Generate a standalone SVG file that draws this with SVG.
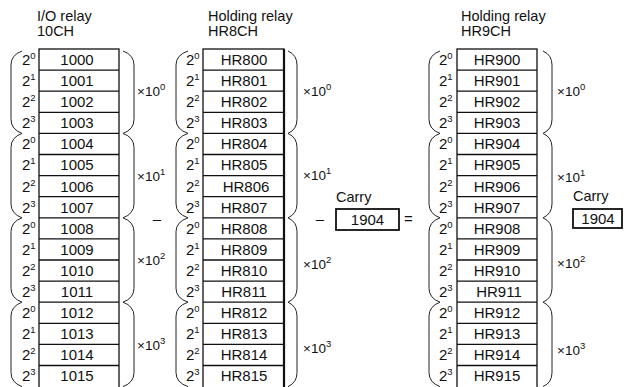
<svg xmlns="http://www.w3.org/2000/svg" width="626" height="387" viewBox="0 0 626 387">
<defs>
<style>
text{font-family:"Liberation Sans",Arial,sans-serif;fill:#111}
.h{font-size:14.5px}
.r{font-size:15px;text-anchor:middle}
.b{font-size:15px}
.s{font-size:9.5px}
.x{font-size:13.5px}
.tbl{fill:none;stroke:#111;stroke-width:1.3}
.br{fill:none;stroke:#222;stroke-width:1}
.cb{fill:#fff;stroke:#111;stroke-width:1.8}
</style>
</defs>
<rect width="626" height="387" fill="#fff"/>

<g id="header-io">
<text class="h" x="37" y="21">I/O relay</text>
<text class="h" x="37" y="36">10CH</text>
</g>
<g id="header-hr8">
<text class="h" x="208" y="21">Holding relay</text>
<text class="h" x="208" y="36">HR8CH</text>
</g>
<g id="header-hr9">
<text class="h" x="461" y="21">Holding relay</text>
<text class="h" x="461" y="36">HR9CH</text>
</g>

<!-- Column A: I/O relay 10CH -->
<g id="table-10CH">
<rect class="tbl" x="39" y="49" width="80" height="345"/>
<path class="tbl" d="M39,70.1H119M39,91.2H119M39,112.3H119M39,133.4H119M39,154.5H119M39,175.6H119M39,196.7H119M39,217.8H119M39,238.9H119M39,260H119M39,281.1H119M39,302.2H119M39,323.3H119M39,344.4H119M39,365.5H119"/>
<text class="r" x="77" y="65">1000</text>
<text class="r" x="77" y="86">1001</text>
<text class="r" x="77" y="107">1002</text>
<text class="r" x="77" y="128">1003</text>
<text class="r" x="77" y="149">1004</text>
<text class="r" x="77" y="170">1005</text>
<text class="r" x="77" y="192">1006</text>
<text class="r" x="77" y="213">1007</text>
<text class="r" x="77" y="234">1008</text>
<text class="r" x="77" y="255">1009</text>
<text class="r" x="77" y="276">1010</text>
<text class="r" x="77" y="297">1011</text>
<text class="r" x="77" y="318">1012</text>
<text class="r" x="77" y="339">1013</text>
<text class="r" x="77" y="360">1014</text>
<text class="r" x="77" y="381">1015</text>
</g>
<g id="bits-10CH">
<text class="b" x="22" y="65">2<tspan class="s" dy="-6">0</tspan></text>
<text class="b" x="22" y="86">2<tspan class="s" dy="-6">1</tspan></text>
<text class="b" x="22" y="107">2<tspan class="s" dy="-6">2</tspan></text>
<text class="b" x="22" y="128">2<tspan class="s" dy="-6">3</tspan></text>
<text class="b" x="22" y="149">2<tspan class="s" dy="-6">0</tspan></text>
<text class="b" x="22" y="170">2<tspan class="s" dy="-6">1</tspan></text>
<text class="b" x="22" y="192">2<tspan class="s" dy="-6">2</tspan></text>
<text class="b" x="22" y="213">2<tspan class="s" dy="-6">3</tspan></text>
<text class="b" x="22" y="234">2<tspan class="s" dy="-6">0</tspan></text>
<text class="b" x="22" y="255">2<tspan class="s" dy="-6">1</tspan></text>
<text class="b" x="22" y="276">2<tspan class="s" dy="-6">2</tspan></text>
<text class="b" x="22" y="297">2<tspan class="s" dy="-6">3</tspan></text>
<text class="b" x="22" y="318">2<tspan class="s" dy="-6">0</tspan></text>
<text class="b" x="22" y="339">2<tspan class="s" dy="-6">1</tspan></text>
<text class="b" x="22" y="360">2<tspan class="s" dy="-6">2</tspan></text>
<text class="b" x="22" y="381">2<tspan class="s" dy="-6">3</tspan></text>
</g>
<g id="scale-10CH">
<text class="x" x="137" y="96">×10<tspan class="s" dy="-6">0</tspan></text>
<text class="x" x="137" y="181">×10<tspan class="s" dy="-6">1</tspan></text>
<text class="x" x="137" y="265">×10<tspan class="s" dy="-6">2</tspan></text>
<text class="x" x="137" y="350">×10<tspan class="s" dy="-6">3</tspan></text>
</g>

<!-- Column B: HR8CH -->
<g id="table-HR8CH">
<rect class="tbl" x="203" y="49" width="81" height="345"/>
<line x1="284" y1="49" x2="284" y2="394" stroke="#111" stroke-width="2.2"/>
<path class="tbl" d="M203,70.1H284M203,91.2H284M203,112.3H284M203,133.4H284M203,154.5H284M203,175.6H284M203,196.7H284M203,217.8H284M203,238.9H284M203,260H284M203,281.1H284M203,302.2H284M203,323.3H284M203,344.4H284M203,365.5H284"/>
<text class="r" x="244" y="65">HR800</text>
<text class="r" x="244" y="86">HR801</text>
<text class="r" x="244" y="107">HR802</text>
<text class="r" x="244" y="128">HR803</text>
<text class="r" x="244" y="149">HR804</text>
<text class="r" x="244" y="170">HR805</text>
<text class="r" x="246" y="192">HR806</text>
<text class="r" x="244" y="213">HR807</text>
<text class="r" x="244" y="234">HR808</text>
<text class="r" x="244" y="255">HR809</text>
<text class="r" x="244" y="276">HR810</text>
<text class="r" x="244" y="297">HR811</text>
<text class="r" x="244" y="318">HR812</text>
<text class="r" x="244" y="339">HR813</text>
<text class="r" x="244" y="360">HR814</text>
<text class="r" x="244" y="381">HR815</text>
</g>
<g id="bits-HR8CH">
<text class="b" x="186" y="65">2<tspan class="s" dy="-6">0</tspan></text>
<text class="b" x="186" y="86">2<tspan class="s" dy="-6">1</tspan></text>
<text class="b" x="186" y="107">2<tspan class="s" dy="-6">2</tspan></text>
<text class="b" x="186" y="128">2<tspan class="s" dy="-6">3</tspan></text>
<text class="b" x="186" y="149">2<tspan class="s" dy="-6">0</tspan></text>
<text class="b" x="186" y="170">2<tspan class="s" dy="-6">1</tspan></text>
<text class="b" x="186" y="192">2<tspan class="s" dy="-6">2</tspan></text>
<text class="b" x="186" y="213">2<tspan class="s" dy="-6">3</tspan></text>
<text class="b" x="186" y="234">2<tspan class="s" dy="-6">0</tspan></text>
<text class="b" x="186" y="255">2<tspan class="s" dy="-6">1</tspan></text>
<text class="b" x="186" y="276">2<tspan class="s" dy="-6">2</tspan></text>
<text class="b" x="186" y="297">2<tspan class="s" dy="-6">3</tspan></text>
<text class="b" x="186" y="318">2<tspan class="s" dy="-6">0</tspan></text>
<text class="b" x="186" y="339">2<tspan class="s" dy="-6">1</tspan></text>
<text class="b" x="186" y="360">2<tspan class="s" dy="-6">2</tspan></text>
<text class="b" x="186" y="381">2<tspan class="s" dy="-6">3</tspan></text>
</g>
<g id="scale-HR8CH">
<text class="x" x="303" y="96">×10<tspan class="s" dy="-6">0</tspan></text>
<text class="x" x="303" y="180">×10<tspan class="s" dy="-6">1</tspan></text>
<text class="x" x="303" y="269">×10<tspan class="s" dy="-6">2</tspan></text>
<text class="x" x="303" y="353">×10<tspan class="s" dy="-6">3</tspan></text>
</g>

<!-- Column C: HR9CH -->
<g id="table-HR9CH">
<rect class="tbl" x="457" y="49" width="80" height="345"/>
<path class="tbl" d="M457,70.1H537M457,91.2H537M457,112.3H537M457,133.4H537M457,154.5H537M457,175.6H537M457,196.7H537M457,217.8H537M457,238.9H537M457,260H537M457,281.1H537M457,302.2H537M457,323.3H537M457,344.4H537M457,365.5H537"/>
<text class="r" x="497" y="65">HR900</text>
<text class="r" x="497" y="86">HR901</text>
<text class="r" x="497" y="107">HR902</text>
<text class="r" x="497" y="128">HR903</text>
<text class="r" x="497" y="149">HR904</text>
<text class="r" x="497" y="170">HR905</text>
<text class="r" x="497" y="192">HR906</text>
<text class="r" x="497" y="213">HR907</text>
<text class="r" x="497" y="234">HR908</text>
<text class="r" x="497" y="255">HR909</text>
<text class="r" x="497" y="276">HR910</text>
<text class="r" x="499" y="297">HR911</text>
<text class="r" x="497" y="318">HR912</text>
<text class="r" x="497" y="339">HR913</text>
<text class="r" x="497" y="360">HR914</text>
<text class="r" x="497" y="381">HR915</text>
</g>
<g id="bits-HR9CH">
<text class="b" x="439" y="65">2<tspan class="s" dy="-6">0</tspan></text>
<text class="b" x="439" y="86">2<tspan class="s" dy="-6">1</tspan></text>
<text class="b" x="439" y="107">2<tspan class="s" dy="-6">2</tspan></text>
<text class="b" x="439" y="128">2<tspan class="s" dy="-6">3</tspan></text>
<text class="b" x="439" y="149">2<tspan class="s" dy="-6">0</tspan></text>
<text class="b" x="439" y="170">2<tspan class="s" dy="-6">1</tspan></text>
<text class="b" x="439" y="192">2<tspan class="s" dy="-6">2</tspan></text>
<text class="b" x="439" y="213">2<tspan class="s" dy="-6">3</tspan></text>
<text class="b" x="439" y="234">2<tspan class="s" dy="-6">0</tspan></text>
<text class="b" x="439" y="255">2<tspan class="s" dy="-6">1</tspan></text>
<text class="b" x="439" y="276">2<tspan class="s" dy="-6">2</tspan></text>
<text class="b" x="439" y="297">2<tspan class="s" dy="-6">3</tspan></text>
<text class="b" x="439" y="318">2<tspan class="s" dy="-6">0</tspan></text>
<text class="b" x="439" y="339">2<tspan class="s" dy="-6">1</tspan></text>
<text class="b" x="439" y="360">2<tspan class="s" dy="-6">2</tspan></text>
<text class="b" x="439" y="381">2<tspan class="s" dy="-6">3</tspan></text>
</g>
<g id="scale-HR9CH">
<text class="x" x="557" y="96">×10<tspan class="s" dy="-6">0</tspan></text>
<text class="x" x="557" y="182">×10<tspan class="s" dy="-6">1</tspan></text>
<text class="x" x="557" y="268">×10<tspan class="s" dy="-6">2</tspan></text>
<text class="x" x="557" y="355">×10<tspan class="s" dy="-6">3</tspan></text>
</g>

<!-- Braces -->
<g id="braces">
<path class="br" d="M22,51 Q11,55 11,65 V119.4 Q11,129.4 22,133.4 Q11,137.4 11,147.4 V203.8 Q11,213.8 22,217.8 Q11,221.8 11,231.8 V288.2 Q11,298.2 22,302.2 Q11,306.2 11,316.2 V372.6 Q11,382.6 22,386.6"/>
<path class="br" d="M123,51 Q134,55 134,65 V119.4 Q134,129.4 123,133.4 Q134,137.4 134,147.4 V203.8 Q134,213.8 123,217.8 Q134,221.8 134,231.8 V288.2 Q134,298.2 123,302.2 Q134,306.2 134,316.2 V372.6 Q134,382.6 123,386.6"/>
<path class="br" d="M188,51 Q176,55 176,65 V119.4 Q176,129.4 188,133.4 Q176,137.4 176,147.4 V203.8 Q176,213.8 188,217.8 Q176,221.8 176,231.8 V288.2 Q176,298.2 188,302.2 Q176,306.2 176,316.2 V372.6 Q176,382.6 188,386.6"/>
<path class="br" d="M288,51 Q297,55 297,65 V119.4 Q297,129.4 288,133.4 Q297,137.4 297,147.4 V203.8 Q297,213.8 288,217.8 Q297,221.8 297,231.8 V288.2 Q297,298.2 288,302.2 Q297,306.2 297,316.2 V372.6 Q297,382.6 288,386.6"/>
<path class="br" d="M440,51 Q429,55 429,65 V119.4 Q429,129.4 440,133.4 Q429,137.4 429,147.4 V203.8 Q429,213.8 440,217.8 Q429,221.8 429,231.8 V288.2 Q429,298.2 440,302.2 Q429,306.2 429,316.2 V372.6 Q429,382.6 440,386.6"/>
<path class="br" d="M543,51 Q552,55 552,65 V119.4 Q552,129.4 543,133.4 Q552,137.4 552,147.4 V203.8 Q552,213.8 543,217.8 Q552,221.8 552,231.8 V288.2 Q552,298.2 543,302.2 Q552,306.2 552,316.2 V372.6 Q552,382.6 543,386.6" stroke="#555"/>
</g>

<!-- Operators and carries -->
<g id="op-minus-1"><text class="r" x="157" y="224">–</text></g>
<g id="op-minus-2"><text class="r" x="320" y="224">–</text></g>
<g id="carry-1">
<text class="h" x="336" y="202">Carry</text>
<rect class="cb" x="336" y="209" width="63" height="21"/>
<text class="r" x="367.5" y="225">1904</text>
</g>
<g id="op-equals"><text class="r" x="408.5" y="224">=</text></g>
<g id="carry-2">
<text class="h" x="573" y="201">Carry</text>
<rect class="cb" x="573" y="209" width="49" height="19"/>
<text class="r" x="598" y="224">1904</text>
</g>
</svg>
